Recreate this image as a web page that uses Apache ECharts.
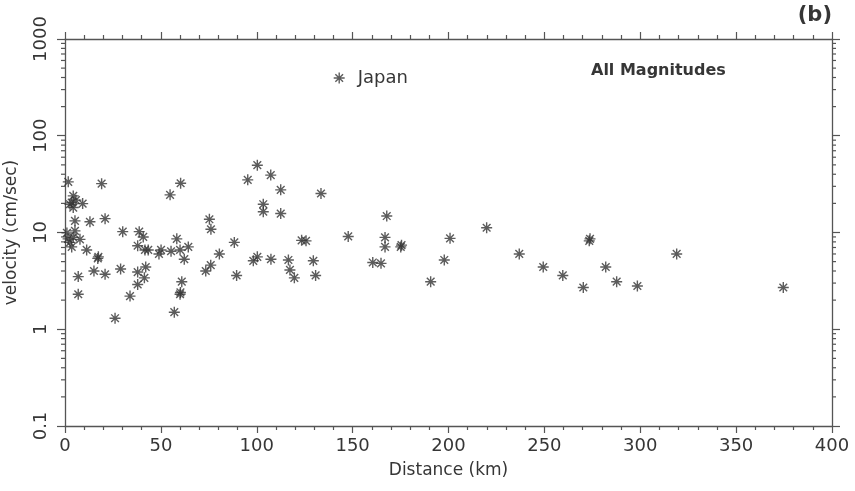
<!DOCTYPE html>
<html>
<head>
<meta charset="utf-8">
<script src="https://cdn.jsdelivr.net/npm/echarts@6/dist/echarts.min.js"></script>
<style>html,body{margin:0;padding:0;background:#fff}#c{width:855px;height:491px}</style>
</head>
<body>
<div id="c"></div>
<script>
// Distance (km) and peak velocity (cm/sec)
var distance = [1.7,19.1,4.3,2.6,4.3,3.5,9.2,5.7,5.2,13.0,20.9,5.2,4.3,2.6,7.8,3.5,11.3,17.4,1.0,1.6,
  54.8,60.3,30.1,38.7,40.8,37.9,41.7,43.4,50.1,49.0,55.3,58.3,60.0,64.3,62.2,17.1,15.1,20.9,29.0,6.9,37.9,42.1,41.4,37.9,60.9,60.0,60.2,6.9,33.9,57.0,26.1,
  73.4,76.0,75.3,76.1,100.3,95.3,107.3,112.5,133.5,103.4,103.4,112.5,88.3,123.4,125.7,147.7,167.8,166.9,166.9,175.1,175.5,80.5,100.3,98.2,107.4,116.5,129.5,117.3,119.6,130.7,89.5,160.5,164.8,
  200.8,197.8,190.7,219.9,236.9,249.4,259.6,270.3,273.4,273.8,282.0,287.7,298.5,319.0,374.6];
var velocity = [33.4,32.0,23.9,19.6,18.1,20.4,19.9,21.6,13.2,12.9,13.9,10.4,8.9,7.9,8.5,7.1,6.6,5.6,9.9,8.6,
  24.5,32.3,10.2,10.2,9.0,7.3,6.6,6.6,6.6,6.0,6.4,8.6,6.6,7.1,5.3,5.4,4.0,3.7,4.2,3.5,3.9,4.4,3.4,2.9,3.1,2.3,2.4,2.3,2.2,1.5,1.3,
  4.0,4.6,13.7,10.8,49.6,35.0,39.2,27.6,25.3,19.6,16.4,15.7,7.9,8.3,8.2,9.1,14.8,8.9,7.1,7.1,7.4,6.0,5.6,5.1,5.3,5.2,5.1,4.1,3.4,3.6,3.6,4.9,4.8,
  8.7,5.2,3.1,11.2,6.0,4.4,3.6,2.7,8.2,8.6,4.4,3.1,2.8,6.0,2.7];
var seriesName = 'Japan';
var xTicks = [0,50,100,150,200,250,300,350,400];
var yTicks = [0.1,1,10,100,1000];
var yMinor = [0.2,0.3,0.4,0.5,0.6,0.7,0.8,0.9,2,3,4,5,6,7,8,9,20,30,40,50,60,70,80,90,200,300,400,500,600,700,800,900];

var pts = distance.map(function(d,i){return [d, velocity[i]];});
var star = 'path://M0,5L10,5M5,0L5,10M1.5,1.5L8.5,8.5M8.5,1.5L1.5,8.5';
var axisCol = '#555';
var txtCol = '#363636';
var font = 'DejaVu Sans';

var chart = echarts.init(document.getElementById('c'), null, {renderer:'canvas'});
chart.setOption({
  animation:false,
  backgroundColor:'#fff',
  textStyle:{fontFamily:font},
  title:[
    {text:'(b)', right:18, top:0, textStyle:{fontFamily:font, fontWeight:'bold', fontSize:21, color:txtCol}},
    {text:'All Magnitudes', left:586, top:58, textStyle:{fontFamily:font, fontWeight:'bold', fontSize:16, color:txtCol}}
  ],
  legend:{
    left:328, top:64, itemWidth:11, itemHeight:11, itemGap:0,
    data:[{name:seriesName, icon:star, itemStyle:{color:'transparent', borderColor:'#333', borderWidth:1.4}}],
    textStyle:{fontFamily:font, fontSize:18, color:txtCol, padding:[0,0,0,8]}
  },
  grid:{left:65, right:23, top:39, bottom:65, containLabel:false, outerBoundsMode:'none'},
  xAxis:[{
    type:'value', min:xTicks[0], max:xTicks[xTicks.length-1], interval:50, position:'bottom',
    name:'Distance (km)', nameLocation:'middle', nameGap:36,
    nameTextStyle:{fontFamily:font, fontSize:17, color:txtCol},
    axisLine:{onZero:false, lineStyle:{color:axisCol, width:1.3}},
    axisTick:{show:true, inside:false, length:7, lineStyle:{color:axisCol, width:1.2}},
    minorTick:{show:true, splitNumber:5, length:4, lineStyle:{color:axisCol, width:1.2}},
    axisLabel:{margin:11, fontFamily:font, fontSize:18, color:txtCol},
    splitLine:{show:false}
  },{
    type:'value', min:xTicks[0], max:xTicks[xTicks.length-1], interval:50, position:'top',
    axisLine:{onZero:false, lineStyle:{color:axisCol, width:1.3}},
    axisTick:{show:true, inside:false, length:7, lineStyle:{color:axisCol, width:1.2}},
    minorTick:{show:true, splitNumber:5, length:4, lineStyle:{color:axisCol, width:1.2}},
    axisLabel:{show:false}, splitLine:{show:false}
  }],
  yAxis:[{
    type:'log', logBase:10, min:yTicks[0], max:yTicks[yTicks.length-1], position:'left',
    name:'velocity (cm/sec)', nameLocation:'middle', nameGap:45, nameRotate:90,
    nameTextStyle:{fontFamily:font, fontSize:17, color:txtCol},
    axisLine:{onZero:false, lineStyle:{color:axisCol, width:1.3}},
    axisTick:{show:true, inside:false, length:8, lineStyle:{color:axisCol, width:1.2}},
    axisLabel:{margin:15, rotate:90, fontFamily:font, fontSize:18, color:txtCol,
      formatter:function(v){return String(v);}},
    splitLine:{show:false}
  },{
    type:'log', logBase:10, min:yTicks[0], max:yTicks[yTicks.length-1], position:'right',
    axisLine:{onZero:false, lineStyle:{color:axisCol, width:1.3}},
    axisTick:{show:true, inside:false, length:8, lineStyle:{color:axisCol, width:1.2}},
    axisLabel:{show:false}, splitLine:{show:false}
  }],
  series:[{
    name:seriesName, type:'scatter', xAxisIndex:0, yAxisIndex:0,
    data:pts, symbol:star, symbolSize:11,
    itemStyle:{color:'transparent', borderColor:'#333', borderWidth:1.4}
  },{
    name:'minorTicks', type:'custom', xAxisIndex:0, yAxisIndex:0, silent:true, clip:false,
    data:yMinor.map(function(v){return [0,v];}),
    renderItem:function(params, api){
      var v = api.value(1);
      var l = api.coord([xTicks[0], v]);
      var r = api.coord([xTicks[xTicks.length-1], v]);
      var st = {stroke:axisCol, lineWidth:1.2};
      return {type:'group', children:[
        {type:'line', shape:{x1:l[0]-4, y1:l[1], x2:l[0], y2:l[1]}, style:st},
        {type:'line', shape:{x1:r[0], y1:r[1], x2:r[0]+4, y2:r[1]}, style:st}
      ]};
    }
  }]
});
</script>
</body>
</html>
